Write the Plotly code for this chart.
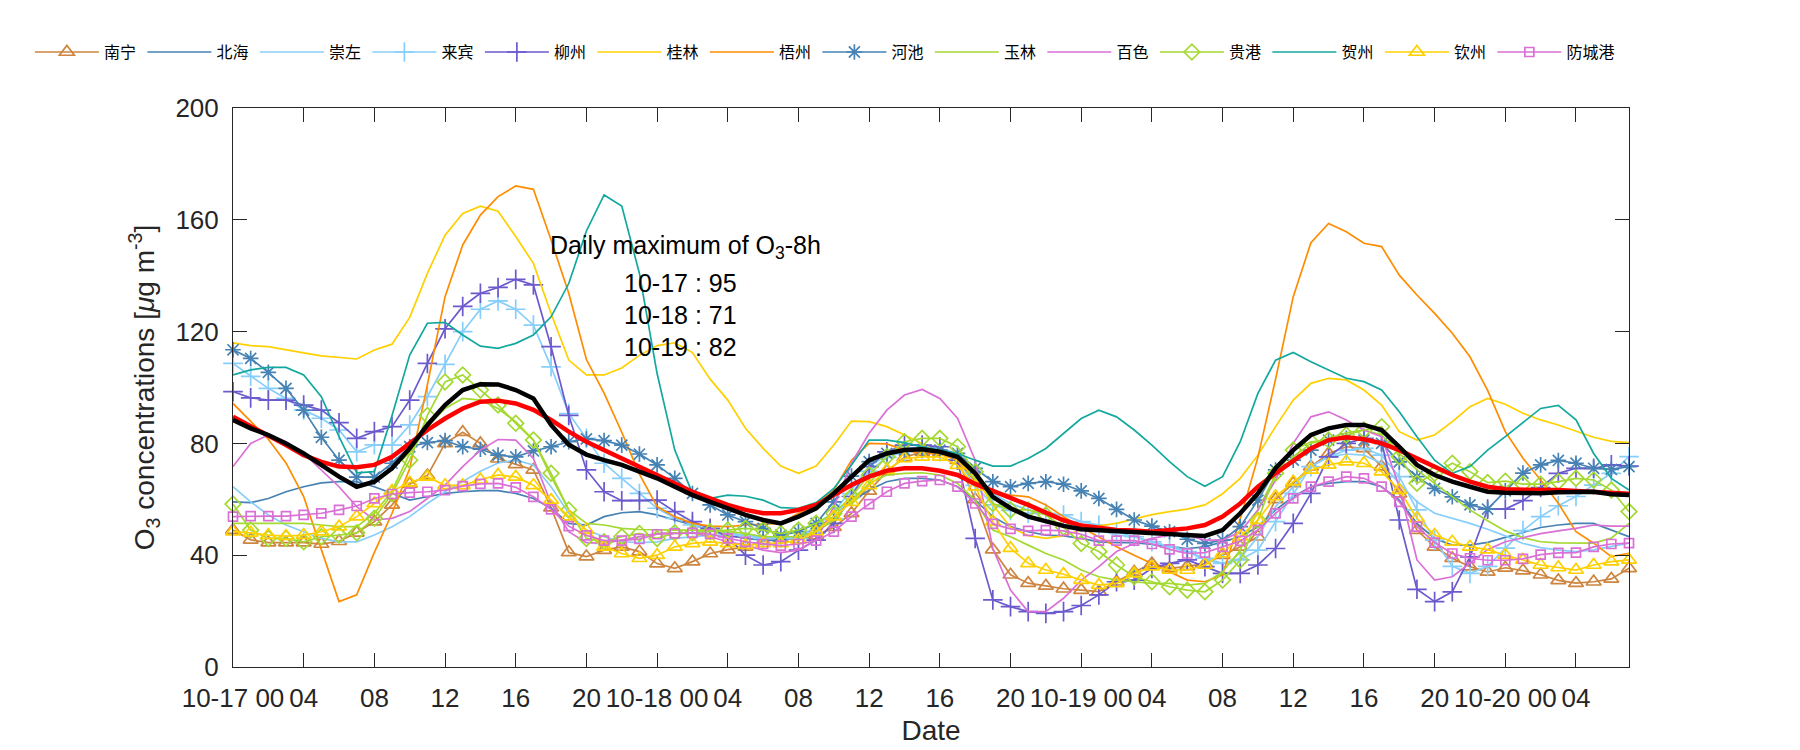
import plotly.graph_objects as go

hours = list(range(80))

tick_hours = list(range(0, 80, 4))
tick_text = ["10-17 00", "04", "08", "12", "16", "20",
             "10-18 00", "04", "08", "12", "16", "20",
             "10-19 00", "04", "08", "12", "16", "20",
             "10-20 00", "04"]
y_ticks = [0, 40, 80, 120, 160, 200]

nanning = [49, 45.5, 44.5, 44.5, 44.5, 44, 45, 48, 52, 58, 65.5, 68.5, 80, 84, 80, 74.5, 72.5, 70.5, 57, 41,
           39.5, 41.8, 43, 41.3, 37, 35.3, 37.7, 40.6, 42, 43, 45, 46, 45.5, 47, 50, 55, 63, 70, 75, 77,
           77, 74, 60, 42, 33, 30, 29, 28, 27.5, 27, 30.5, 34, 37, 35.3, 36, 37, 40, 43, 46.6, 60,
           65.7, 71.7, 76.4, 78.8, 78.2, 71.7, 62, 49, 43, 38.9, 35.9, 34, 35.5, 34.5, 33, 31, 30, 30.5, 31.5, 35.3]
beihai = [59.1, 58.8, 60.3, 62.7, 64.5, 65.9, 66.3, 66.3, 64.5, 62.1, 59.7, 60.9, 62.1, 62.7, 63.1, 63.1, 62.1, 60.3, 56.8, 51.4,
          50.8, 53.8, 55.2, 55.6, 54.4, 52.6, 50.8, 49, 47.2, 46, 45.4, 45.2, 46.6, 49.6, 53.8, 59.1, 63.3, 66.3, 67.5, 67.5,
          66.9, 64.5, 59.7, 53.8, 50.2, 48.4, 47.2, 46.9, 46, 44.8, 44.5, 44.5, 43.9, 43, 42.4, 43, 44.8, 46.6, 50.2, 56.2,
          60.9, 64.5, 65.7, 66.3, 66.3, 64.5, 59.7, 51.4, 46, 43.6, 43.6, 44.6, 46.4, 48.1, 49.9, 50.8, 51.4, 51.4, 49, 46.6]
chongzuo = [64.5, 59.1, 54.4, 50.8, 48.4, 46, 44.8, 44.8, 47.2, 50.2, 53.8, 58.5, 62.7, 66.5, 70, 73, 74, 72.3, 64.5, 55,
            49, 46.6, 44.8, 44.5, 44.8, 46, 46.6, 47.2, 47.2, 47.2, 46.6, 46, 46.6, 50.2, 55.6, 63.3, 71.7, 75.8, 78.2, 78.8,
            78.2, 76.4, 69.3, 62.1, 58.5, 56.2, 55, 52.6, 51, 49, 47.2, 46.6, 44.8, 43, 41.3, 38.3, 37.1, 38.9, 46.6, 57.4,
            64.5, 71.7, 75.2, 76.2, 75.8, 72.9, 65.7, 59.1, 55, 53.2, 51.4, 49.3, 46.9, 44.2, 42.7, 41.8, 41.3, 41.9, 43, 44.3]
laibin = [108.6, 104, 99.7, 96.1, 91.9, 89, 84.8, 77, 79.5, 79.4, 86.6, 96.7, 108.3, 120, 128, 131, 128, 122.3, 107.4, 90.7,
          81.8, 72.9, 67.5, 62.1, 56.8, 53.2, 50.8, 49, 48, 47, 46, 46, 46, 48, 53, 62, 70, 75, 77, 78,
          77, 74, 65, 58, 56, 55, 55, 54.4, 52, 50.8, 48.4, 46.6, 44.8, 43, 41.3, 38.9, 37.1, 38.3, 41.8, 52,
          62.1, 71.7, 75.2, 77.6, 78.2, 75.8, 68.1, 56.2, 45.4, 36, 33.5, 36, 42.5, 48.8, 53.8, 57.7, 61, 65.1, 69.3, 75.3]
liuzhou = [98.5, 96.3, 95.5, 95.5, 93.7, 91.9, 87.4, 81.8, 84.2, 86, 95.5, 108.6, 121, 129, 133.7, 135.8, 138.7, 136.7, 114.6, 90,
           70.5, 62.7, 59.5, 59.5, 59.7, 55.6, 52, 49.6, 46.6, 40, 36.5, 37.7, 41.8, 45.4, 51.4, 61, 71.7, 77, 79.4, 79.4,
           78.8, 74, 46, 24, 21.6, 19.8, 19.2, 19.8, 22, 25.8, 30.5, 31.1, 35.3, 37.1, 38.3, 35.9, 33.5, 33.5, 36.5, 42.4,
           51.4, 62.1, 75.2, 80, 81.8, 80.6, 52.6, 27.8, 23.4, 26.9, 39.4, 56.5, 56.5, 59.5, 64.2, 69.3, 71.1, 71.1, 72.3, 71.9]
guilin = [116, 115, 114.6, 113.6, 112.4, 111.3, 110.7, 110.2, 113.4, 115.5, 125.1, 140.8, 154.5, 162.3, 164.9, 163.1, 154, 144.4, 126.5, 109.8,
          104.5, 104.5, 107, 111.5, 115, 116, 112.5, 103, 95.5, 85.4, 78.2, 71.9, 69.3, 71.9, 79.4, 88, 87.8, 86, 83, 80,
          76, 74, 68, 58, 50, 47, 46, 47, 49, 50.5, 51.4, 53, 54.5, 55.6, 56.5, 58, 62, 67.5, 75.8, 86,
          95.5, 101.5, 103.3, 102.7, 99.1, 93.7, 84.2, 81.2, 83, 87.8, 93.1, 96.1, 94, 90.8, 88.4, 86.6, 84.3, 82.2, 80.7, 80.3]
wuzhou = [94.3, 88, 81.5, 73, 61, 42, 23.4, 25.8, 41, 55, 71, 101, 132.5, 151, 161.7, 168.3, 172.1, 170.9, 152.8, 133.7,
          110, 98, 84, 69, 57.4, 53.8, 51.4, 50.4, 50.2, 50.8, 51.1, 51.4, 55, 58, 63.3, 74, 80, 79.8, 77.6, 76.4,
          76.4, 74, 66.3, 62.7, 61.5, 60.9, 58, 53.8, 50, 46.5, 43, 40, 37.1, 34.1, 31.1, 30.5, 33, 53, 75, 103,
          132.5, 151.8, 158.7, 155.7, 151.6, 150.4, 140.2, 133.1, 126.5, 119.4, 111, 99, 84.2, 74.7, 66.9, 58.6, 48.4, 44.3, 39.5, 40.7]
hechi = [113.5, 110.4, 105.4, 99.7, 91.9, 82.2, 74, 67.9, 67.9, 72.9, 78.8, 80.3, 81, 78.8, 77.9, 75.8, 75.2, 77.3, 78.8, 80.6,
         81.6, 81, 79.4, 76.2, 72.3, 67.5, 62.1, 58, 54.4, 52, 49.6, 47.2, 48.4, 51.4, 59.1, 68.3, 73.5, 76.4, 77.6, 77.6,
         77.6, 76.4, 71.1, 66.3, 64.5, 65.7, 66.3, 65.4, 63, 60.3, 56.4, 52.6, 50.4, 48.4, 45.7, 44.2, 45.4, 50.2, 59.7, 70.5,
         74, 77.6, 81.2, 81.8, 81.2, 80, 73.4, 68.1, 63.9, 60.9, 58, 56.5, 63, 69.4, 72.3, 73.9, 72.9, 71.1, 70.7, 71.7]
yulin = [51.4, 51.4, 51.4, 51.6, 51.4, 50.8, 50.2, 50.2, 55, 63, 76.4, 86, 92.5, 96.1, 95.5, 92.5, 87.8, 81.2, 68.1, 56.2,
         51.4, 50.8, 49.6, 49.2, 49, 49, 49, 49, 48.4, 47.8, 46.6, 46.6, 46.6, 48.4, 52.6, 59.7, 65.7, 68.7, 69.3, 69.5,
         68.7, 65.7, 59.7, 49, 46.6, 43.6, 40.6, 38.3, 34.7, 32.3, 31.1, 30.5, 29.9, 29.9, 29.3, 29.9, 34.1, 41.8, 56.2, 68.7,
         75.2, 80, 81.8, 83.8, 84.8, 83, 76.4, 70.5, 65.7, 60.9, 56.2, 52.3, 48.7, 46.3, 44.8, 44.4, 44.3, 44.3, 46.1, 51.4]
baise = [71.7, 80, 83, 80.6, 76.4, 70.5, 64.5, 57.4, 52.6, 53.2, 55.6, 60.3, 65.1, 71.7, 77.6, 81.4, 81.2, 74.6, 58.5, 48.4,
         44.5, 44.2, 45.4, 46.6, 47.8, 48, 48, 46.6, 44.8, 43.6, 41.8, 40.9, 41.8, 45.4, 57.4, 72.9, 83.6, 91.9, 97.3, 99.3,
         96.1, 89, 74, 42.4, 27.5, 19.8, 19.8, 24.6, 31, 35.9, 41.3, 44.2, 46, 47.2, 47.2, 45.4, 45.4, 48.4, 56.2, 66.9,
         80, 89.5, 91.3, 88.4, 84.8, 82.4, 64.5, 38.3, 31.1, 32.3, 37.1, 42, 44.8, 46.2, 47.7, 48.7, 49.6, 50.8, 50.4, 50.4]
guigang = [58.3, 49, 46, 46, 44.8, 46.6, 47.2, 48, 53.2, 62, 74, 90, 102, 104.5, 99.1, 93.7, 87.2, 81.2, 69.3, 56.2,
           46, 44.8, 46.6, 47.8, 46, 48, 48, 48.4, 49, 49.6, 49, 47.8, 49, 51.4, 55, 61, 68.7, 75.2, 80.6, 81.8,
           81.8, 78.8, 69.9, 58.5, 56.2, 56.2, 54.4, 50, 44.2, 41.3, 36.5, 32.3, 30.5, 28.7, 27.5, 26.9, 31.1, 38.3, 52.6, 69.3,
           77.6, 80.6, 81.2, 83, 84.8, 86, 75.2, 65.7, 69.3, 72.9, 69.9, 66, 66.5, 65.4, 65.4, 66.3, 67.5, 66.9, 63.3, 55.6]
hezhou = [104.5, 106.3, 107.2, 107.2, 104.5, 96.7, 82.4, 69.5, 69.9, 90, 111.6, 123, 123.3, 118.8, 114.8, 114, 115.8, 118.8, 125.3, 137.2,
          156, 168.9, 164.9, 140.8, 105, 77.6, 62.1, 60.3, 61.5, 61.1, 59.7, 57, 56.8, 58.8, 63.9, 72.3, 81.2, 81.2, 80.3, 78.8,
          77.6, 76.4, 74, 71.9, 71.9, 74.6, 78.2, 83.6, 88.9, 91.9, 89.5, 84.8, 79.4, 73.5, 68.1, 64.7, 68.1, 80.6, 97.9, 109.8,
          112.5, 109.2, 106.3, 103.3, 102.1, 99.1, 91.3, 82.4, 74, 69.3, 71.7, 77.6, 82.4, 87.5, 92.5, 93.6, 88.4, 76.4, 67.5, 63.3]
qinzhou = [48.4, 48, 47.2, 46.8, 47.2, 48.4, 50.2, 53.8, 58.5, 63, 66, 68, 65, 65, 67, 68.7, 68, 65, 59.7, 53.8,
           49, 43, 40.6, 38.9, 40, 43, 44.2, 44.8, 44.2, 43.6, 44.2, 44.2, 45.4, 48.4, 53.8, 59, 65, 70.5, 74.6, 75.2,
           75.2, 72.2, 64.5, 52, 42.5, 37.1, 34.7, 33.2, 31.1, 29.3, 29.9, 33.5, 35.9, 34.7, 34.7, 36.5, 40.6, 46.6, 52.6, 61,
           66.3, 70.5, 72.3, 73.5, 72.9, 69.9, 63.3, 53.2, 47.2, 44.8, 43, 42, 40, 38.3, 36.5, 35.6, 34.7, 36.5, 37.7, 38.3]
fangchenggang = [53.8, 54, 54, 54, 54.4, 55, 56.2, 57.6, 60.3, 61.9, 62.4, 62.7, 63.3, 64.7, 65.5, 65.7, 64.3, 60.9, 56.4, 50.4,
                 47.1, 45.2, 45.2, 45.8, 47.5, 47.8, 48, 47.6, 46, 44.8, 44, 43.4, 44, 45.2, 48.4, 53.8, 58.3, 62.7, 65.7, 66.5,
                 66.9, 64.5, 58.5, 51.2, 49.4, 48.7, 49, 48.7, 47.5, 45.2, 45.2, 45.2, 44, 42.1, 40.6, 40.9, 43, 45.1, 49, 55,
                 60.3, 64.5, 66.3, 68.1, 67.5, 64.5, 59.1, 50.2, 44.5, 40.6, 38.9, 38.2, 38.2, 38.7, 40.2, 40.8, 40.9, 43, 44, 44.3]
region_mean = [88.4, 85.4, 83, 80, 76.4, 72.3, 68.1, 64.5, 66.3, 71.1, 78.2, 86.6, 93.7, 99.1, 101.2, 101.1, 99.1, 96.1, 86.6, 79.5,
               76, 74, 72.3, 69.9, 67.5, 64.5, 61.5, 59.1, 56.8, 54.4, 52.6, 51.4, 53.8, 56.8, 62.1, 68.1, 74, 76.4, 77.6, 77.9,
               77, 75.2, 69.3, 60.9, 56.8, 53.8, 52, 50.5, 49.3, 49, 48.4, 48, 47.8, 47.6, 47.2, 46.9, 49, 55, 62.1, 71.1,
               77.6, 83, 85.4, 86.6, 86.6, 84.8, 78.8, 72.3, 68.7, 66.3, 64.5, 62.7, 62.3, 62.2, 62.2, 62.5, 62.6, 62.7, 61.8, 61.5]
region_8h = [89.5, 86.2, 83, 79.4, 75.8, 73.4, 71.7, 71.5, 72.3, 75.2, 80, 84.8, 88.9, 92.5, 94.9, 95.3, 94.3, 92, 88.4, 84.2,
             80.6, 77.6, 74.6, 71.7, 68.7, 65.7, 62.7, 60.3, 58, 56.2, 55, 55, 56.2, 58, 61.5, 65.1, 68.1, 70.2, 71.1, 71.1,
             70.2, 68.7, 65.5, 62.8, 60.5, 58, 55.2, 52.5, 50.6, 49.6, 49, 48.8, 48.4, 49, 49.6, 50.8, 53.8, 58.5, 64.5, 69.3,
             74, 78.2, 81.2, 82.2, 81.5, 80, 77.6, 74.6, 71.7, 68.7, 66.3, 64.5, 63.6, 63.3, 63.3, 63.3, 63, 62.8, 62.5, 62]

daily_max_title = "Daily maximum of O<sub>3</sub>-8h"
daily_max_lines = ["10-17 : 95", "10-18 : 71", "10-19 : 82"]

stations = [
    ("南宁", nanning, "#CD853F", "triangle-up-open", 13),
    ("北海", beihai, "#4682B4", None, 0),
    ("崇左", chongzuo, "#87CEFA", None, 0),
    ("来宾", laibin, "#87CEFA", "cross-thin-open", 14),
    ("柳州", liuzhou, "#6A5ACD", "cross-thin-open", 14),
    ("桂林", guilin, "#FFD000", None, 0),
    ("梧州", wuzhou, "#FF8C00", None, 0),
    ("河池", hechi, "#4682B4", "asterisk-open", 13),
    ("玉林", yulin, "#A3D930", None, 0),
    ("百色", baise, "#DA70D6", None, 0),
    ("贵港", guigang, "#A3D930", "diamond-open", 12),
    ("贺州", hezhou, "#13A89E", None, 0),
    ("钦州", qinzhou, "#FFD000", "triangle-up-open", 13),
    ("防城港", fangchenggang, "#DA70D6", "square-open", 9),
]

fig = go.Figure()
for name, vals, color, sym, size in stations:
    extra = dict(legendwidth=60) if name == "防城港" else {}
    if sym:
        fig.add_trace(go.Scatter(
            x=hours, y=vals, name=name, mode="lines+markers",
            line=dict(color=color, width=1.7),
            marker=dict(symbol=sym, size=size, color=color, line=dict(color=color, width=1.7)),
            cliponaxis=False, **extra))
    else:
        fig.add_trace(go.Scatter(
            x=hours, y=vals, name=name, mode="lines",
            line=dict(color=color, width=1.7), cliponaxis=False, **extra))

fig.add_trace(go.Scatter(x=hours, y=region_8h, mode="lines", showlegend=False,
                         line=dict(color="#FF0000", width=4.5)))
fig.add_trace(go.Scatter(x=hours, y=region_mean, mode="lines", showlegend=False,
                         line=dict(color="#000000", width=4.5)))

tick_font = dict(family="Liberation Sans, Arial, sans-serif", size=26, color="#262626")
title_font = dict(family="Liberation Sans, Arial, sans-serif", size=28, color="#262626")
note_font = dict(family="Liberation Sans, Arial, sans-serif", size=25, color="#000000")

# page body adds an 8px margin, so the figure is 8px smaller on each axis
fig.update_layout(
    width=1792, height=742, autosize=False,
    margin=dict(l=225, r=171, t=100, b=83, pad=0),
    paper_bgcolor="white", plot_bgcolor="white",
    font=dict(family="Liberation Sans, Arial, sans-serif", size=24, color="#262626"),
    showlegend=True,
    legend=dict(orientation="h", x=-0.1455, xanchor="left", y=1.10, yanchor="middle",
                font=dict(family="Noto Sans CJK SC", size=16, color="#000000"),
                itemwidth=64, entrywidth=33.5, entrywidthmode="pixels",
                bgcolor="rgba(0,0,0,0)", borderwidth=0, itemclick=False),
    xaxis=dict(range=[0, 79], tickmode="array", tickvals=tick_hours, ticktext=tick_text,
               ticks="inside", ticklen=14, tickwidth=1, tickcolor="#262626",
               showline=True, linecolor="#262626", linewidth=1, mirror="ticks",
               showgrid=False, zeroline=False, tickfont=tick_font, ticklabelstandoff=8,
               automargin=False,
               title=dict(text="Date", font=title_font, standoff=8)),
    yaxis=dict(range=[0, 200], tickmode="array", tickvals=y_ticks,
               ticks="inside", ticklen=14, tickwidth=1, tickcolor="#262626",
               showline=True, linecolor="#262626", linewidth=1, mirror="ticks",
               showgrid=False, zeroline=False, tickfont=tick_font, ticklabelstandoff=8,
               automargin=False,
               title=dict(text="O<sub>3</sub> concentrations [<i>μ</i>g m<sup>-3</sup>]",
                          font=title_font, standoff=12)),
)

fig.add_annotation(x=25.6, y=150.3, xref="x", yref="y", text=daily_max_title,
                   showarrow=False, xanchor="center", yanchor="middle", font=note_font)
for i, line in enumerate(daily_max_lines):
    fig.add_annotation(x=22.0, y=137.4 - 11.45 * i, xref="x", yref="y", text=line,
                       showarrow=False, xanchor="left", yanchor="middle", font=note_font)

fig.write_html("out.html")
